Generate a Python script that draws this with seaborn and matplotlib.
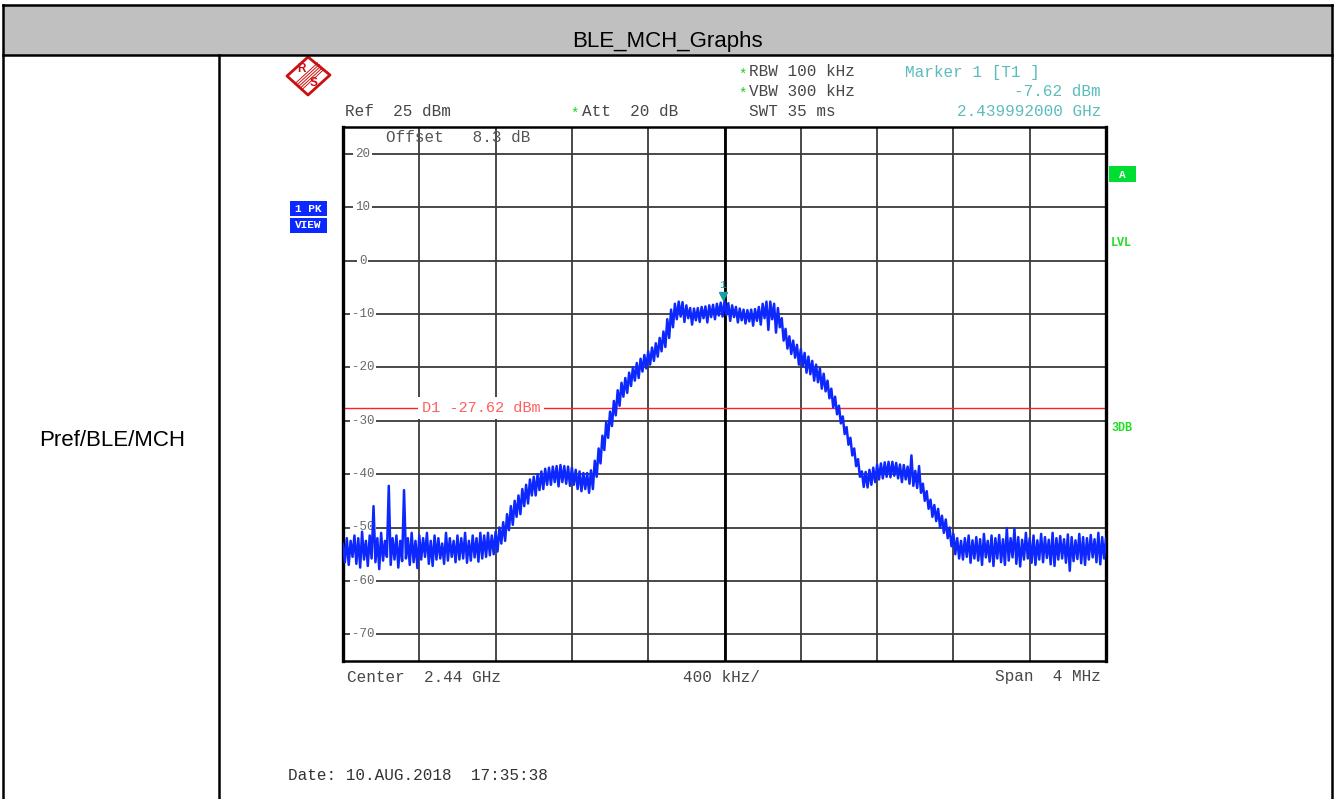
import numpy as np
import pandas as pd
import matplotlib
matplotlib.use("Agg")
import matplotlib.pyplot as plt
import matplotlib.transforms as mtransforms
from matplotlib.patches import Rectangle, Polygon
from matplotlib.lines import Line2D
import seaborn as sns

# ---------------- data ----------------
center_mhz = 2440.0
span_mhz = 4.0
freq_mhz = np.linspace(center_mhz - span_mhz / 2, center_mhz + span_mhz / 2, 201)  # sweep points

# per-point maximum of the displayed (noisy) trace, dBm
level_max = [
    -53.0, -52.0, -52.5, -51.5, -52.0, -50.8, -52.5, -51.5, -46.0, -52.0,
    -51.0, -52.5, -42.2, -52.0, -51.5, -52.5, -43.0, -52.0, -51.0, -52.5,
    -51.5, -52.0, -51.0, -52.5, -51.5, -52.0, -53.0, -51.0, -52.0, -52.5,
    -51.5, -52.0, -51.0, -52.5, -51.5, -52.0, -51.0, -51.5, -51.0,
    -51.5, -50.8, -50.0, -49.0, -47.5, -46.0, -45.0, -44.0, -42.8, -42.0,
    -41.0, -40.5, -40.0, -39.5, -39.0,
    -38.8, -38.6, -38.5, -38.3, -38.5, -38.6, -38.8, -39.2, -39.5, -39.8,
    -39.8, -39.3, -37.5,
    -35.2, -32.8, -30.2, -28.3, -26.3, -24.3, -22.9, -22.0, -21.0, -20.0,
    -19.2, -18.4, -17.7, -17.0, -16.3, -15.5, -14.5, -13.3, -11.0, -9.2, -8.1,
    -7.7, -7.8, -8.4, -8.9, -9.0, -8.9, -8.7, -8.6, -8.4, -8.3,
    -8.1, -7.9, -7.6, -8.0, -8.4, -8.7, -9.0, -9.2, -9.3, -9.2,
    -9.1, -8.7, -8.1, -7.7, -7.7, -8.1, -8.9,
    -10.8, -12.8, -14.2, -15.0, -15.8, -16.6, -17.3, -18.0, -18.8, -19.5,
    -20.2, -21.2, -22.5, -24.0, -25.5, -27.2, -29.2, -31.2, -33.2, -35.2, -37.2,
    -39.5, -39.6, -39.2, -38.8, -38.2, -38.0, -37.8, -37.7, -37.7, -37.9,
    -38.2, -38.3, -38.6, -36.5, -39.4,
    -38.5, -41.8, -43.2, -44.8, -45.8, -46.5, -47.8, -48.5, -50.0, -51.2, -52.0,
    -52.5, -52.0, -51.5, -52.4, -51.8, -52.2, -51.2, -52.5, -51.5, -52.0,
    -51.4, -52.2, -50.1, -52.0, -50.2, -51.8, -52.3, -51.0, -52.0, -51.5,
    -52.4, -51.2, -51.8, -52.3, -51.0, -52.0, -51.6, -52.2, -51.3, -51.8,
    -52.4, -51.2, -51.8, -52.0, -51.4, -52.2, -51.0, -51.8, -52.0,
]
# per-point minimum of the displayed trace, dBm
level_min = [
    -56.5, -57.0, -55.5, -56.8, -57.5, -56.0, -57.2, -55.8, -56.5, -57.8,
    -56.2, -55.5, -57.0, -56.0, -57.5, -56.3, -55.8, -57.0, -56.5, -57.6,
    -56.0, -55.5, -56.8, -57.2, -56.0, -55.8, -56.8, -56.2, -55.5, -56.5,
    -56.0, -55.8, -56.6, -56.2, -55.6, -56.4, -55.8, -55.5, -55.2,
    -55.0, -54.5, -53.0, -52.5, -50.5, -49.5, -48.0, -47.5, -46.0, -45.5,
    -44.0, -44.0, -43.0, -42.8, -42.0,
    -42.0, -41.5, -42.3, -41.5, -41.8, -42.2, -42.0, -42.8, -43.2, -42.8,
    -43.5, -42.8, -40.5,
    -38.0, -35.5, -33.2, -31.0, -29.0, -27.2, -25.5, -24.8, -23.5, -22.5,
    -22.0, -20.8, -20.2, -19.5, -18.8, -18.0, -17.0, -16.2, -14.5, -12.5, -11.0,
    -10.5, -11.5, -10.8, -12.0, -11.2, -11.5, -10.8, -11.6, -10.6, -11.0,
    -10.3, -10.5, -10.2, -11.3, -10.6, -11.6, -11.2, -11.8, -11.4, -12.2,
    -11.3, -12.0, -10.8, -13.0, -11.0, -13.5, -12.5,
    -15.0, -16.5, -17.5, -18.2, -19.5, -19.8, -21.0, -21.3, -22.5, -22.8,
    -24.0, -24.5, -25.8, -27.5, -28.8, -30.5, -32.5, -34.5, -36.5, -38.5, -40.5,
    -42.4, -42.5, -42.0, -41.5, -41.0, -40.8, -40.5, -40.6, -40.3, -40.8,
    -41.5, -41.0, -41.8, -42.2, -42.6,
    -43.5, -45.0, -46.5, -48.0, -48.8, -50.0, -51.0, -52.0, -53.5, -55.0, -55.8,
    -56.0, -55.5, -56.6, -55.8, -56.2, -57.0, -55.6, -56.4, -57.2, -55.8,
    -56.5, -57.0, -56.2, -55.6, -56.8, -57.3, -56.0, -55.8, -56.6, -57.0,
    -56.0, -56.5, -55.7, -56.9, -57.2, -56.0, -55.8, -56.6, -58.1, -56.3,
    -55.9, -56.7, -57.0, -56.0, -55.6, -56.5, -56.9, -55.8, -56.2,
]
assert len(level_max) == len(level_min) == len(freq_mhz)

y_ticks = [20, 10, 0, -10, -20, -30, -40, -50, -60, -70]
ref_level = 25
bottom_level = -75
d1_level = -27.62
marker_freq_mhz = 2439.992
marker_level = -7.62

# ---------------- styling ----------------
W, H = 1335, 799
sns.set_style("white")
plt.rcParams["font.family"] = ["Liberation Sans", "DejaVu Sans"]
MONO = ["Liberation Mono", "DejaVu Sans Mono"]
GRAY_TXT = "#474747"
TEAL = "#5cbcbc"
GREEN = "#22dd22"
BLUE = "#0c28ff"

fig = plt.figure(figsize=(W / 100, H / 100), dpi=100)


def fx(x):
    return x / W


def fy(y):
    return 1 - y / H


def hline(x0, x1, y, lw=1.8, color="black"):
    fig.add_artist(Line2D([fx(x0), fx(x1)], [fy(y), fy(y)], transform=fig.transFigure,
                          color=color, lw=lw, solid_capstyle="projecting"))


def vline(x, y0, y1, lw=1.8, color="black"):
    fig.add_artist(Line2D([fx(x), fx(x)], [fy(y0), fy(y1)], transform=fig.transFigure,
                          color=color, lw=lw, solid_capstyle="projecting"))


# ---------------- table frame ----------------
fig.add_artist(Rectangle((fx(3), fy(55)), fx(1332) - fx(3), fy(5) - fy(55),
                         transform=fig.transFigure, facecolor="#c0c0c0", edgecolor="none"))
hline(3, 1332, 5)
hline(3, 1332, 55)
vline(3, 5, 799)
vline(1332, 5, 799)
vline(219, 55, 799)
fig.text(fx(667), fy(42), "BLE_MCH_Graphs", ha="center", va="center", fontsize=16, color="black")
fig.text(fx(112), fy(440), "Pref/BLE/MCH", ha="center", va="center", fontsize=16, color="black")

# ---------------- spectrum axes ----------------
ax = fig.add_axes([fx(343), fy(661), fx(1106) - fx(343), (661 - 127) / H])
ax.set_xlim(freq_mhz[0], freq_mhz[-1])
ax.set_ylim(bottom_level, ref_level)
ax.set_xticks(np.linspace(freq_mhz[0], freq_mhz[-1], 11)[1:-1])
ax.set_yticks(y_ticks)
ax.grid(True, color="#3a3a3a", lw=1.3, zorder=0)
ax.set_axisbelow(True)
ax.tick_params(length=0, labelbottom=False, labelleft=False)
for side in ["left", "right"]:
    ax.spines[side].set_linewidth(2.4)
    ax.spines[side].set_color("black")
for side in ["top", "bottom"]:
    ax.spines[side].set_linewidth(1.8)
    ax.spines[side].set_color("black")
ax.axvline(center_mhz, color="black", lw=2.0, zorder=1)

# trace: interleave max / min of each sweep point
half_step = (freq_mhz[1] - freq_mhz[0]) / 2
tx = np.empty(2 * len(freq_mhz))
ty = np.empty(2 * len(freq_mhz))
tx[0::2] = freq_mhz
tx[1::2] = freq_mhz + half_step
ty[0::2] = level_max
ty[1::2] = level_min
trace = pd.DataFrame({"freq": tx, "level": ty})
sns.lineplot(data=trace, x="freq", y="level", sort=False, estimator=None,
             color=BLUE, lw=1.8, ax=ax, zorder=3)
ax.set_xlabel("")
ax.set_ylabel("")

# display line D1
ax.axhline(d1_level, color="#ff2020", lw=1.0, zorder=2)
blend = mtransforms.blended_transform_factory(ax.transAxes, ax.transData)
ax.text(0.103, d1_level, "D1 -27.62 dBm", transform=blend, ha="left", va="center",
        family=MONO, fontsize=11, color="#ff6060", zorder=4,
        bbox=dict(boxstyle="square,pad=0.25", fc="white", ec="none"))

# y labels drawn inside the grid
for v in y_ticks:
    ax.text(0.026, v, str(v), transform=blend, ha="center", va="center",
            family=MONO, fontsize=9, color="#6a6a6a", zorder=2,
            bbox=dict(boxstyle="square,pad=0.15", fc="white", ec="none"))

# marker 1
up = mtransforms.offset_copy(ax.transData, fig=fig, x=0, y=5, units="dots")
ax.plot([marker_freq_mhz], [marker_level], marker="v", ms=6, color="#1a9e9e",
        transform=up, zorder=5, ls="none")
ax.annotate("1", xy=(marker_freq_mhz, marker_level), xytext=(0, 16),
            textcoords="offset pixels", ha="center", va="center",
            family=MONO, fontsize=8, color="#1a9e9e", zorder=5)


# ---------------- instrument annotations ----------------
def mono(x, y, s, color=GRAY_TXT, ha="left", size=11.5, weight="normal"):
    fig.text(fx(x), fy(y), s, ha=ha, va="center", family=MONO, fontsize=size,
             color=color, weight=weight)


mono(738, 75, "*", color="#22cc22", size=10)
mono(738, 94, "*", color="#22cc22", size=10)
mono(570, 114, "*", color="#22cc22", size=10)
mono(749, 72, "RBW 100 kHz")
mono(749, 91, "VBW 300 kHz")
mono(749, 111, "SWT 35 ms")
mono(345, 111, "Ref  25 dBm")
mono(582, 111, "Att  20 dB")
mono(905, 72, "Marker 1 [T1 ]", color=TEAL)
mono(1101, 91, "-7.62 dBm", color=TEAL, ha="right")
mono(1101, 111, "2.439992000 GHz", color=TEAL, ha="right")
mono(386, 138, "Offset   8.3 dB", color="#555555")
mono(347, 677, "Center  2.44 GHz")
mono(721, 677, "400 kHz/", ha="center")
mono(1101, 677, "Span  4 MHz", ha="right")
mono(288, 776, "Date: 10.AUG.2018  17:35:38", color="#333333")

# right side status labels
fig.add_artist(Rectangle((fx(1109), fy(182)), fx(1136) - fx(1109), fy(166) - fy(182),
                         transform=fig.transFigure, facecolor="#00dd33", edgecolor="none"))
fig.text(fx(1122.5), fy(174.5), "A", ha="center", va="center", family=MONO,
         fontsize=8, color="white", weight="bold")
mono(1111, 243, "LVL", color=GREEN, size=8.5, weight="bold")
mono(1111, 428, "3DB", color=GREEN, size=8.5, weight="bold")

# left side trace info
for (y0, y1, lab) in [(201, 216, "1 PK"), (218, 233, "VIEW")]:
    fig.add_artist(Rectangle((fx(290), fy(y1)), fx(327) - fx(290), fy(y0) - fy(y1),
                             transform=fig.transFigure, facecolor="#0a28ff", edgecolor="none"))
    fig.text(fx(308.5), fy((y0 + y1) / 2), lab, ha="center", va="center", family=MONO,
             fontsize=8, color="white", weight="bold")

# R&S logo
RED = "#cc1010"
fig.add_artist(Polygon([(fx(287), fy(76)), (fx(308), fy(57)), (fx(330), fy(75)), (fx(308), fy(95))],
                       closed=True, transform=fig.transFigure, facecolor="none",
                       edgecolor=RED, lw=2.0, joinstyle="round"))
for k in range(-2, 3):
    fig.add_artist(Line2D([fx(321 + 1.6 * k), fx(298 + 1.6 * k)], [fy(66 + 1.6 * k), fy(87 + 1.6 * k)],
                          transform=fig.transFigure, color=RED, lw=0.7))
fig.text(fx(302), fy(69), "R", ha="center", va="center", fontsize=8.5, color=RED, weight="bold")
fig.text(fx(314), fy(83), "S", ha="center", va="center", fontsize=8.5, color=RED, weight="bold")

fig.savefig("out.png", dpi=100)
